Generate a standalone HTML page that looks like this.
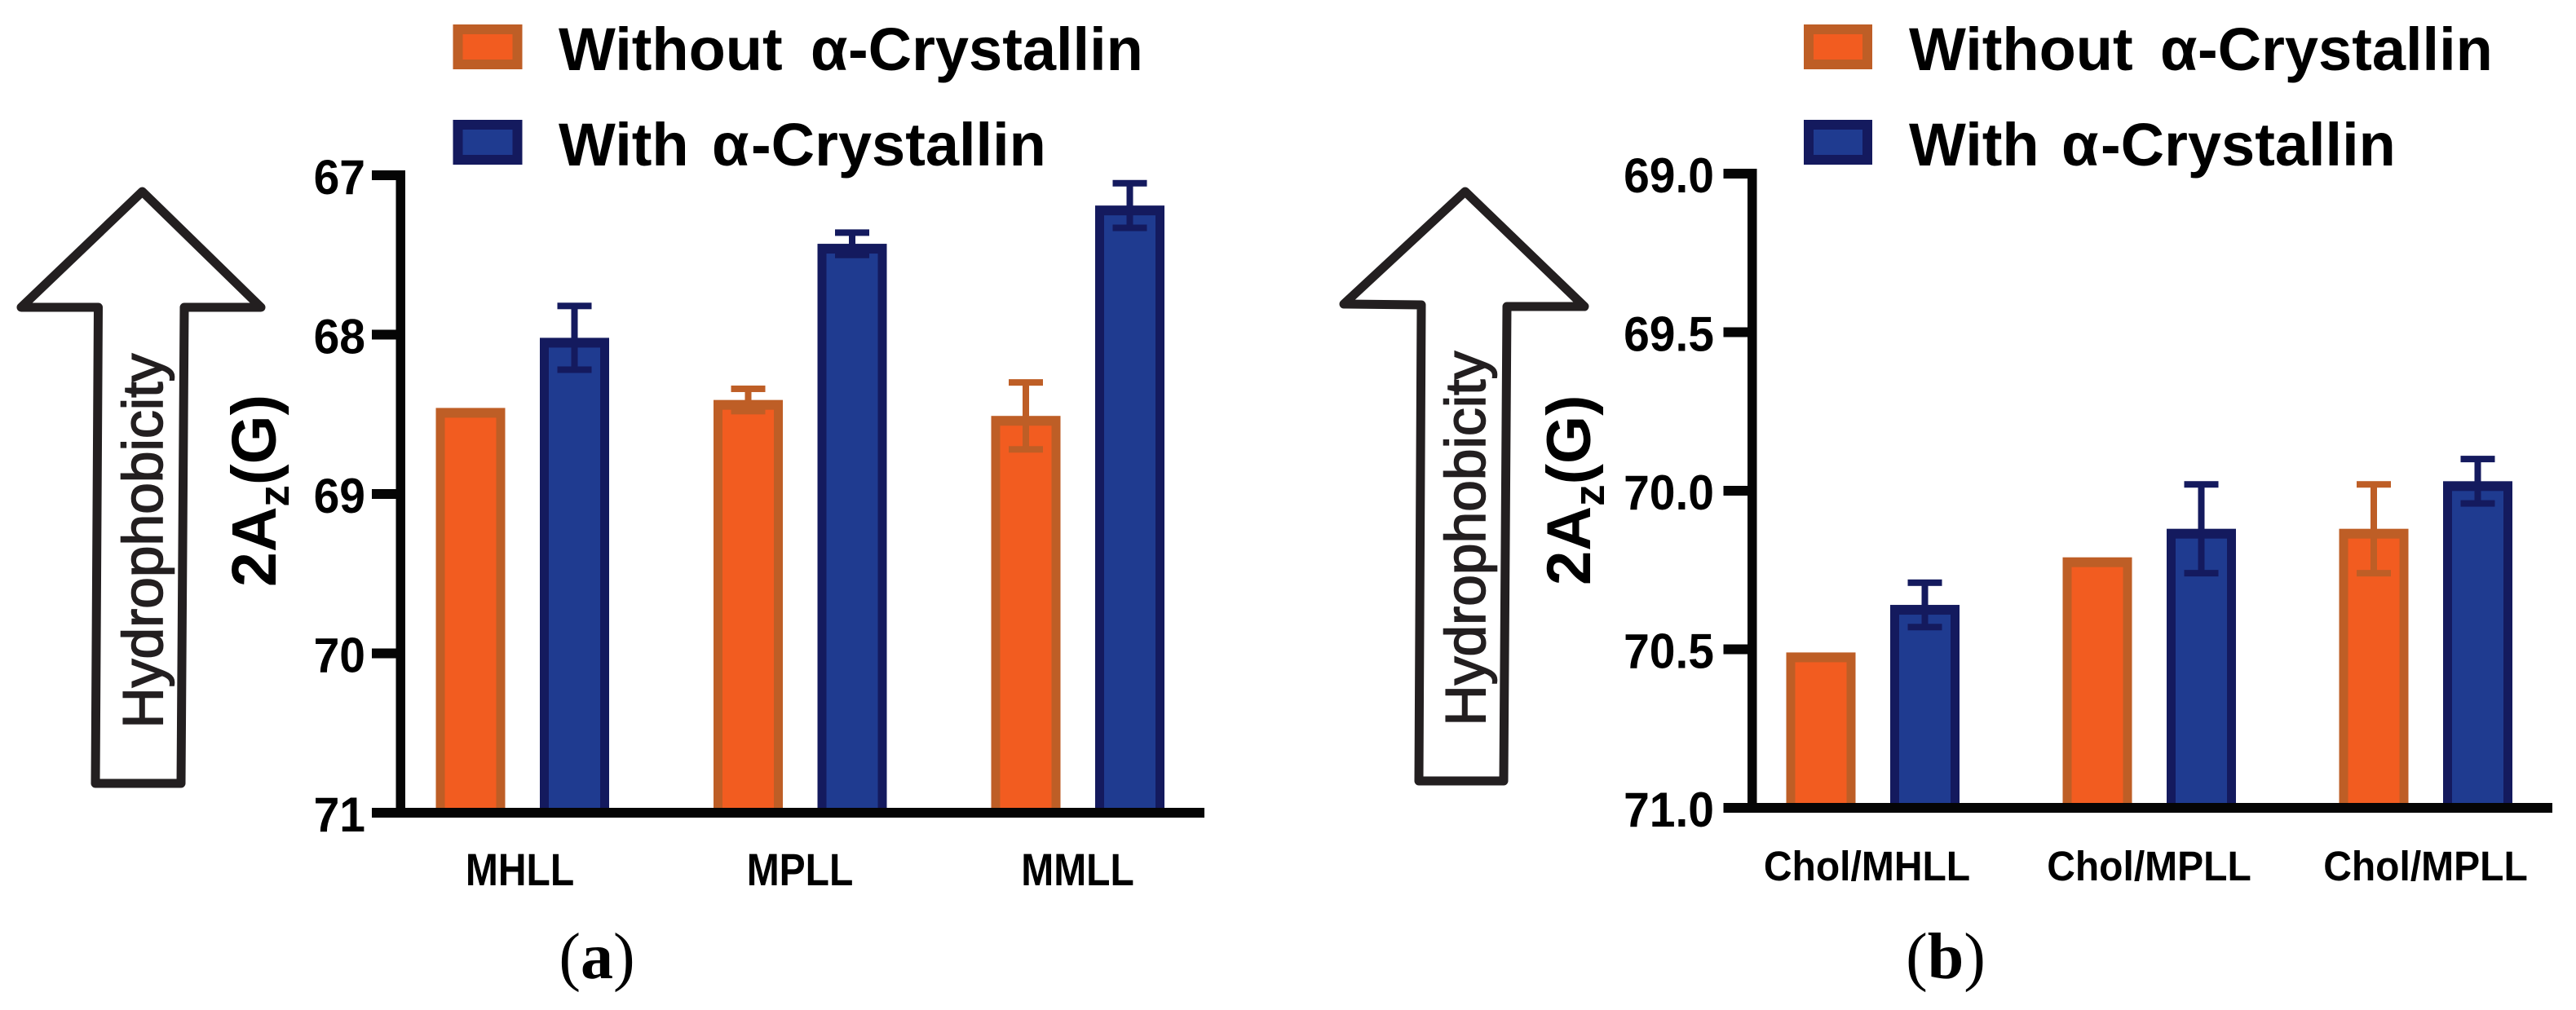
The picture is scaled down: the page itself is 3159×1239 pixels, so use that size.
<!DOCTYPE html>
<html lang="en">
<head>
<meta charset="utf-8">
<title>Hydrophobicity 2Az(G) with and without α-Crystallin</title>
<style>
html,body{margin:0;padding:0;background:#fff;}
svg{display:block;}
text{font-family:"Liberation Sans",Arial,sans-serif;}
.serif{font-family:"Liberation Serif","Times New Roman",serif;}
</style>
</head>
<body>
<svg id="figure" xmlns="http://www.w3.org/2000/svg" width="3159" height="1239" viewBox="0 0 3159 1239">
  <rect width="3159" height="1239" fill="#ffffff"/>

  <g id="panel-a">
    <polygon points="174.5,235 320,377 226,377 222,961 117,961 120.5,377 26,377" fill="#fff" stroke="#231f20" stroke-width="11" stroke-linejoin="round"/>
    <text transform="translate(199,893.5) rotate(-90)" font-size="69.5" fill="#231f20" stroke="#231f20" stroke-width="1.6">Hydrophobicity</text>
    <text transform="translate(338,720) rotate(-90)" font-size="77" font-weight="bold" fill="#000">2A<tspan font-size="53" dy="16">z</tspan><tspan dy="-16">(G)</tspan></text>
    <g>
      <rect x="561.5" y="36" width="73" height="43" fill="#f25c20" stroke="#be5e26" stroke-width="12"/>
      <text x="685" y="86" font-size="74" font-weight="bold" fill="#000">Without <tspan x="994">α</tspan><tspan x="1040">-Crystallin</tspan></text>
      <rect x="561.5" y="153" width="73" height="43" fill="#1f3b90" stroke="#141a5e" stroke-width="12"/>
      <text x="685" y="203" font-size="74" font-weight="bold" fill="#000">With <tspan x="873">α</tspan><tspan x="921">-Crystallin</tspan></text>
    </g>
    <g id="plot-a"></g>
    <text class="serif" x="732" y="1200" font-size="80" text-anchor="middle" fill="#000">(<tspan font-weight="bold">a</tspan>)</text>
  </g>

  <g id="panel-b">
    <polygon points="1796.7,235 1943,376 1848,376 1844,958 1740,958 1743,374 1648,373" fill="#fff" stroke="#231f20" stroke-width="11" stroke-linejoin="round"/>
    <text transform="translate(1821,890.5) rotate(-90)" font-size="69.5" fill="#231f20" stroke="#231f20" stroke-width="1.6">Hydrophobicity</text>
    <text transform="translate(1950,718) rotate(-90)" font-size="76" font-weight="bold" fill="#000">2A<tspan font-size="53" dy="17">z</tspan><tspan dy="-17">(G)</tspan></text>
    <g>
      <rect x="2218" y="36" width="72" height="43" fill="#f25c20" stroke="#be5e26" stroke-width="12"/>
      <text x="2341" y="86" font-size="74" font-weight="bold" fill="#000">Without <tspan x="2649">α</tspan><tspan x="2695">-Crystallin</tspan></text>
      <rect x="2218" y="153" width="72" height="43" fill="#1f3b90" stroke="#141a5e" stroke-width="12"/>
      <text x="2341" y="203" font-size="74" font-weight="bold" fill="#000">With <tspan x="2528">α</tspan><tspan x="2576">-Crystallin</tspan></text>
    </g>
    <g id="plot-b"></g>
    <text class="serif" x="2386" y="1200" font-size="80" text-anchor="middle" fill="#000">(<tspan font-weight="bold">b</tspan>)</text>
  </g>
</svg>

<script>
// Panel (a) data
var categoriesA = ["MHLL", "MPLL", "MMLL"];
var withoutValuesA = [68.46, 68.41, 68.51];
var withoutErrorsA = [0, 0.07, 0.21];
var withValuesA = [68.02, 67.43, 67.19];
var withErrorsA = [0.20, 0.07, 0.14];
var yTickValuesA = [67, 68, 69, 70, 71];
var yTickLabelsA = ["67", "68", "69", "70", "71"];

// Panel (b) data
var categoriesB = ["Chol/MHLL", "Chol/MPLL", "Chol/MPLL"];
var withoutValuesB = [70.51, 70.21, 70.12];
var withoutErrorsB = [0, 0, 0.14];
var withValuesB = [70.36, 70.12, 69.97];
var withErrorsB = [0.07, 0.14, 0.07];
var yTickValuesB = [69, 69.5, 70, 70.5, 71];
var yTickLabelsB = ["69.0", "69.5", "70.0", "70.5", "71.0"];

var SVG_NS = "http://www.w3.org/2000/svg";

function makeEl(parent, tag, attrs) {
  var el = document.createElementNS(SVG_NS, tag);
  for (var k in attrs) { el.setAttribute(k, attrs[k]); }
  parent.appendChild(el);
  return el;
}

function drawBar(parent, x, top, bottom, fill, edge, name) {
  var w = 85, bx = 11, by = 12;
  var g = makeEl(parent, "g", {});
  
  
  makeEl(g, "rect", { x: x, y: top, width: w, height: bottom - top, fill: edge });
  makeEl(g, "rect", { x: x + bx, y: top + by, width: w - 2 * bx, height: Math.max(0, bottom - top - by), fill: fill });
}

function drawError(parent, cx, yHigh, yLow, color, name) {
  var capW = 42, capH = 8, stem = 8;
  var g = makeEl(parent, "g", {});
  
  
  makeEl(g, "rect", { x: cx - stem / 2, y: yHigh, width: stem, height: yLow - yHigh, fill: color });
  makeEl(g, "rect", { x: cx - capW / 2, y: yHigh - capH / 2, width: capW, height: capH, fill: color });
  makeEl(g, "rect", { x: cx - capW / 2, y: yLow - capH / 2, width: capW, height: capH, fill: color });
}

function drawChart(cfg) {
  var root = document.getElementById(cfg.id);
  var yMin = cfg.ticks[0], yMax = cfg.ticks[cfg.ticks.length - 1];

  function yScale(v) {
    return cfg.yTop + (v - yMin) * (cfg.yBottom - cfg.yTop) / (yMax - yMin);
  }
  function groupCenter(i) {
    return cfg.groupStart + i * cfg.groupStep;
  }

  var baseY = yScale(yMax);

  cfg.categories.forEach(function (cat, i) {
    var c = groupCenter(i);
    var xOrange = c - 106;
    var xBlue = c + 21.5;

    drawBar(root, xOrange, yScale(cfg.without[i]), baseY, "#f25c20", "#be5e26", "bar-without-" + (i + 1));
    if (cfg.withoutErr[i] > 0) {
      drawError(root, xOrange + 42.5, yScale(cfg.without[i] - cfg.withoutErr[i]), yScale(cfg.without[i] + cfg.withoutErr[i]), "#be5e26", "error-bar-without-" + (i + 1));
    }

    drawBar(root, xBlue, yScale(cfg.withV[i]), baseY, "#1f3b90", "#141a5e", "bar-with-" + (i + 1));
    if (cfg.withErr[i] > 0) {
      drawError(root, xBlue + 42.5, yScale(cfg.withV[i] - cfg.withErr[i]), yScale(cfg.withV[i] + cfg.withErr[i]), "#141a5e", "error-bar-with-" + (i + 1));
    }

    var label = makeEl(root, "text", {
      transform: "translate(" + (c + (i === 0 ? cfg.firstLabelShift : 0)) + "," + cfg.labelY + ") scale(1," + cfg.labelStretch + ")",
      "text-anchor": "middle", "font-size": 48, "font-weight": "bold", fill: "#000"
    });
    
    
    label.textContent = cat;
  });

  // Axes are drawn above the bars
  var yAxis = makeEl(root, "rect", { x: cfg.axisX, y: cfg.yTop - 6, width: 11.5, height: baseY - cfg.yTop + 12, fill: "#050505" });
  
  

  var xAxis = makeEl(root, "rect", { x: cfg.tickLeft, y: baseY - 6, width: cfg.axisEnd - cfg.tickLeft, height: 12, fill: "#050505" });
  
  

  cfg.ticks.forEach(function (v, i) {
    var y = yScale(v);
    var tick = makeEl(root, "rect", { x: cfg.tickLeft, y: y - 6, width: cfg.axisX - cfg.tickLeft + 1, height: 12, fill: "#050505" });
    
    

    var t = makeEl(root, "text", {
      transform: "translate(" + cfg.tickLabelRight + "," + (y + 23) + ") scale(1,1.06)",
      "text-anchor": "end", "font-size": 57, "font-weight": "bold", fill: "#000"
    });
    
    
    t.textContent = cfg.tickLabels[i];
  });
}

drawChart({
  id: "plot-a",
  categories: categoriesA,
  without: withoutValuesA,
  withoutErr: withoutErrorsA,
  withV: withValuesA,
  withErr: withErrorsA,
  ticks: yTickValuesA,
  tickLabels: yTickLabelsA,
  yTop: 215, yBottom: 997,
  groupStart: 640.5, groupStep: 340.5,
  axisX: 485.5, tickLeft: 456, axisEnd: 1477, tickLabelRight: 448,
  labelY: 1086, labelStretch: 1.16, firstLabelShift: -3
});

drawChart({
  id: "plot-b",
  categories: categoriesB,
  without: withoutValuesB,
  withoutErr: withoutErrorsB,
  withV: withValuesB,
  withErr: withErrorsB,
  ticks: yTickValuesB,
  tickLabels: yTickLabelsB,
  yTop: 213, yBottom: 991,
  groupStart: 2296.5, groupStep: 339,
  axisX: 2143, tickLeft: 2113.5, axisEnd: 3130, tickLabelRight: 2102,
  labelY: 1080, labelStretch: 1.06, firstLabelShift: -7
});
</script>
</body>
</html>
